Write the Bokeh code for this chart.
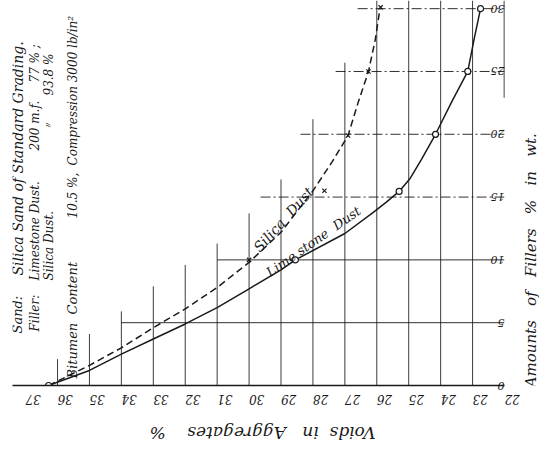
import math
from bokeh.plotting import figure
from bokeh.models import Range1d, FixedTicker, Label
from bokeh.layouts import column, row
from bokeh.core.properties import value
from bokeh.embed import file_html
from bokeh.resources import INLINE

# ---------------- data ----------------
voids_ticks = list(range(22, 38))
filler_ticks = [0, 5, 10, 15, 20, 25, 30]

# Limestone dust curve (voids %, filler %)
lime_voids = [36.28, 35.0, 34.0, 33.0, 32.0, 31.0, 30.0, 29.0, 28.55, 27.0, 26.1, 25.7, 25.3, 24.95, 24.6, 24.16, 23.65, 23.15, 22.95, 22.75]
lime_filler = [0.0, 1.2, 2.5, 3.7, 4.9, 6.2, 7.7, 9.2, 10.0, 12.1, 13.8, 14.6, 15.45, 16.5, 18.0, 20.0, 22.6, 25.0, 27.6, 30.0]
lime_pts_voids = [36.28, 28.55, 25.3, 24.16, 23.15, 22.75]
lime_pts_filler = [0.0, 10.0, 15.45, 20.0, 25.0, 30.0]

# Silica dust curve
sil_voids = [36.28, 35.0, 34.0, 33.0, 32.0, 31.0, 30.0, 29.0, 28.0, 27.4, 26.9, 26.6, 26.26, 26.05, 25.9]
sil_filler = [0.0, 1.6, 3.0, 4.6, 6.1, 7.8, 9.8, 12.2, 15.5, 17.8, 19.9, 22.4, 25.0, 27.5, 30.0]
sil_pts_voids = [30.0, 27.64, 26.9, 26.26, 25.88]
sil_pts_filler = [10.0, 15.5, 19.9, 25.0, 30.1]

# staircase grid
vgrid_x = [36, 35, 34, 33, 32, 31, 30, 29, 28, 27, 26, 25, 24, 23]
vgrid_top = [2.1, 4.1, 5.9, 7.9, 9.6, 11.3, 13.7, 16.4, 21.2, 25.7, 30.65, 30.65, 30.65, 30.65]
hgrid_y = [5, 10, 15, 20, 25, 30]
hgrid_start = [34.0, 31.0, 29.64, 28.39, 27.29, 26.6]

X_LEFT, X_RIGHT = 37.41, 22.0
Y_TOP = 30.65
FL, FT, FW, FH = 12, 0, 492, 385
RB, BB = 14, 30          # right / bottom borders of the main figure
MAIN_W = FL + FW + RB
MAIN_H = FT + FH + BB
TOTAL_W, TOTAL_H = 537, 445

INK = "#1a1a1a"
FONT = "DejaVu Serif"
NB = "\u00a0"


def gap(n):
    return " " + NB * (n - 1)


def sx(px):
    return X_LEFT + (px - FL) / FW * (X_RIGHT - X_LEFT)


def sy(py):
    return (FT + FH - py) / FH * Y_TOP


p = figure(frame_width=FW, frame_height=FH,
           x_range=Range1d(X_LEFT, X_RIGHT), y_range=Range1d(0, Y_TOP),
           y_axis_location="right", output_backend="svg", toolbar_location=None,
           min_border_left=FL, min_border_right=RB, min_border_top=FT, min_border_bottom=BB,
           outline_line_color=None, background_fill_color="white", border_fill_color="white")
p.xgrid.visible = False
p.ygrid.visible = False

xa = p.xaxis[0]
xa.ticker = FixedTicker(ticks=voids_ticks)
xa.major_label_orientation = math.pi
xa.major_tick_out = 0
xa.major_tick_in = 0
xa.minor_tick_out = 0
xa.minor_tick_in = 0
xa.axis_line_color = INK
xa.axis_line_width = 1.5
xa.major_label_text_font = FONT
xa.major_label_text_font_style = "italic"
xa.major_label_text_font_size = "12px"
xa.major_label_text_color = INK
xa.major_label_standoff = 14

ya = p.yaxis[0]
ya.ticker = FixedTicker(ticks=filler_ticks)
ya.major_label_orientation = math.pi
ya.major_tick_out = 0
ya.major_tick_in = 0
ya.minor_tick_out = 0
ya.minor_tick_in = 0
ya.axis_line_color = None
ya.major_label_text_font = FONT
ya.major_label_text_font_style = "italic"
ya.major_label_text_font_size = "11px"
ya.major_label_text_color = INK
ya.major_label_standoff = 0

# grid (staircase)
p.segment(x0=vgrid_x, y0=[0] * len(vgrid_x), x1=vgrid_x, y1=vgrid_top,
          line_color=INK, line_width=1, line_alpha=0.85)
p.segment(x0=[22], y0=[22.9], x1=[22], y1=[Y_TOP], line_color=INK, line_width=1.6)
p.segment(x0=hgrid_start[:2], y0=hgrid_y[:2], x1=[22] * 2, y1=hgrid_y[:2],
          line_color=INK, line_width=1, line_alpha=0.9)
p.segment(x0=hgrid_start[2:], y0=hgrid_y[2:], x1=[22] * 4, y1=hgrid_y[2:],
          line_color=INK, line_width=1, line_alpha=0.9, line_dash="10 3 2 3")

# curves
p.line(lime_voids, lime_filler, line_color=INK, line_width=1.5)
p.line(sil_voids, sil_filler, line_color=INK, line_width=1.5, line_dash="7 4")
p.scatter(lime_pts_voids, lime_pts_filler, marker="circle", size=6,
          line_color=INK, fill_color="white", line_width=1.2)
p.scatter(sil_pts_voids, sil_pts_filler, marker="x", size=6,
          line_color=INK, line_width=1.2)


def lab(px, py, text, angle=0.0, size="12px", align="center", baseline="middle"):
    p.add_layout(Label(x=sx(px), y=sy(py), text=text, angle=angle,
                       text_font=FONT, text_font_style="italic",
                       text_font_size=size, text_color=INK,
                       text_align=align, text_baseline=baseline))


# curve labels
lab(283, 219, "Silica" + gap(2) + "Dust", angle=math.radians(48), size="14px")
lab(313, 241, "Lime stone" + gap(2) + "Dust", angle=math.radians(35), size="13px")

# note block (vertical, reading upwards)
up = math.pi / 2
lab(17, 333, "Sand:", angle=up, align="left", size="13px")
lab(17, 275, "Silica Sand of Standard Grading.", angle=up, align="left", size="14px")
lab(34, 331, "Filler:", angle=up, align="left")
lab(34, 280, "Limestone Dust.", angle=up, align="left")
lab(34, 150, "200 m.f.", angle=up, align="left")
lab(34, 82, "77 % ;", angle=up, align="left")
lab(48, 280, "Silica Dust.", angle=up, align="left")
lab(48, 130, "\u3003", angle=up, align="left", size="10px")
lab(48, 95, "93.8 %", angle=up, align="left")
lab(72, 378, "Bitumen" + gap(2) + "Content", angle=up, align="left", size="13px")
lab(72, 218, "10.5 %,", angle=up, align="left")
lab(72, 165, "Compression 3000 lb/in\u00b2", angle=up, align="left")


def strip(w, h):
    f = figure(width=w, height=h, x_range=Range1d(0, w), y_range=Range1d(0, h),
               output_backend="svg", toolbar_location=None,
               min_border=0, outline_line_color=None,
               background_fill_color="white", border_fill_color="white")
    f.axis.visible = False
    f.grid.visible = False
    return f


# right-hand axis title, reading upwards
rw = TOTAL_W - MAIN_W
rfig = strip(rw, MAIN_H)
rtitle = "Amounts" + gap(3) + "of" + gap(3) + "Fillers" + gap(3) + "%" + gap(3) + "in" + gap(3) + "wt."
rfig.text(x=[9], y=[MAIN_H - 280], text=[rtitle],
          angle=math.pi / 2, text_font=value(FONT), text_font_style="italic",
          text_font_size="15px", text_color=INK, text_align="center", text_baseline="middle")

# bottom axis title, upside down
bh = TOTAL_H - MAIN_H
bfig = strip(TOTAL_W, bh)
btitle = "Voids" + gap(2) + "in" + gap(3) + "Aggregates" + gap(4) + "%"
bfig.text(x=[262], y=[TOTAL_H - 432], text=[btitle],
          angle=math.pi, text_font=value(FONT), text_font_style="italic",
          text_font_size="17px", text_color=INK, text_align="center", text_baseline="middle")

layout = column(row(p, rfig, spacing=0), bfig, spacing=0)
open("out.html", "w").write(file_html(layout, INLINE))
